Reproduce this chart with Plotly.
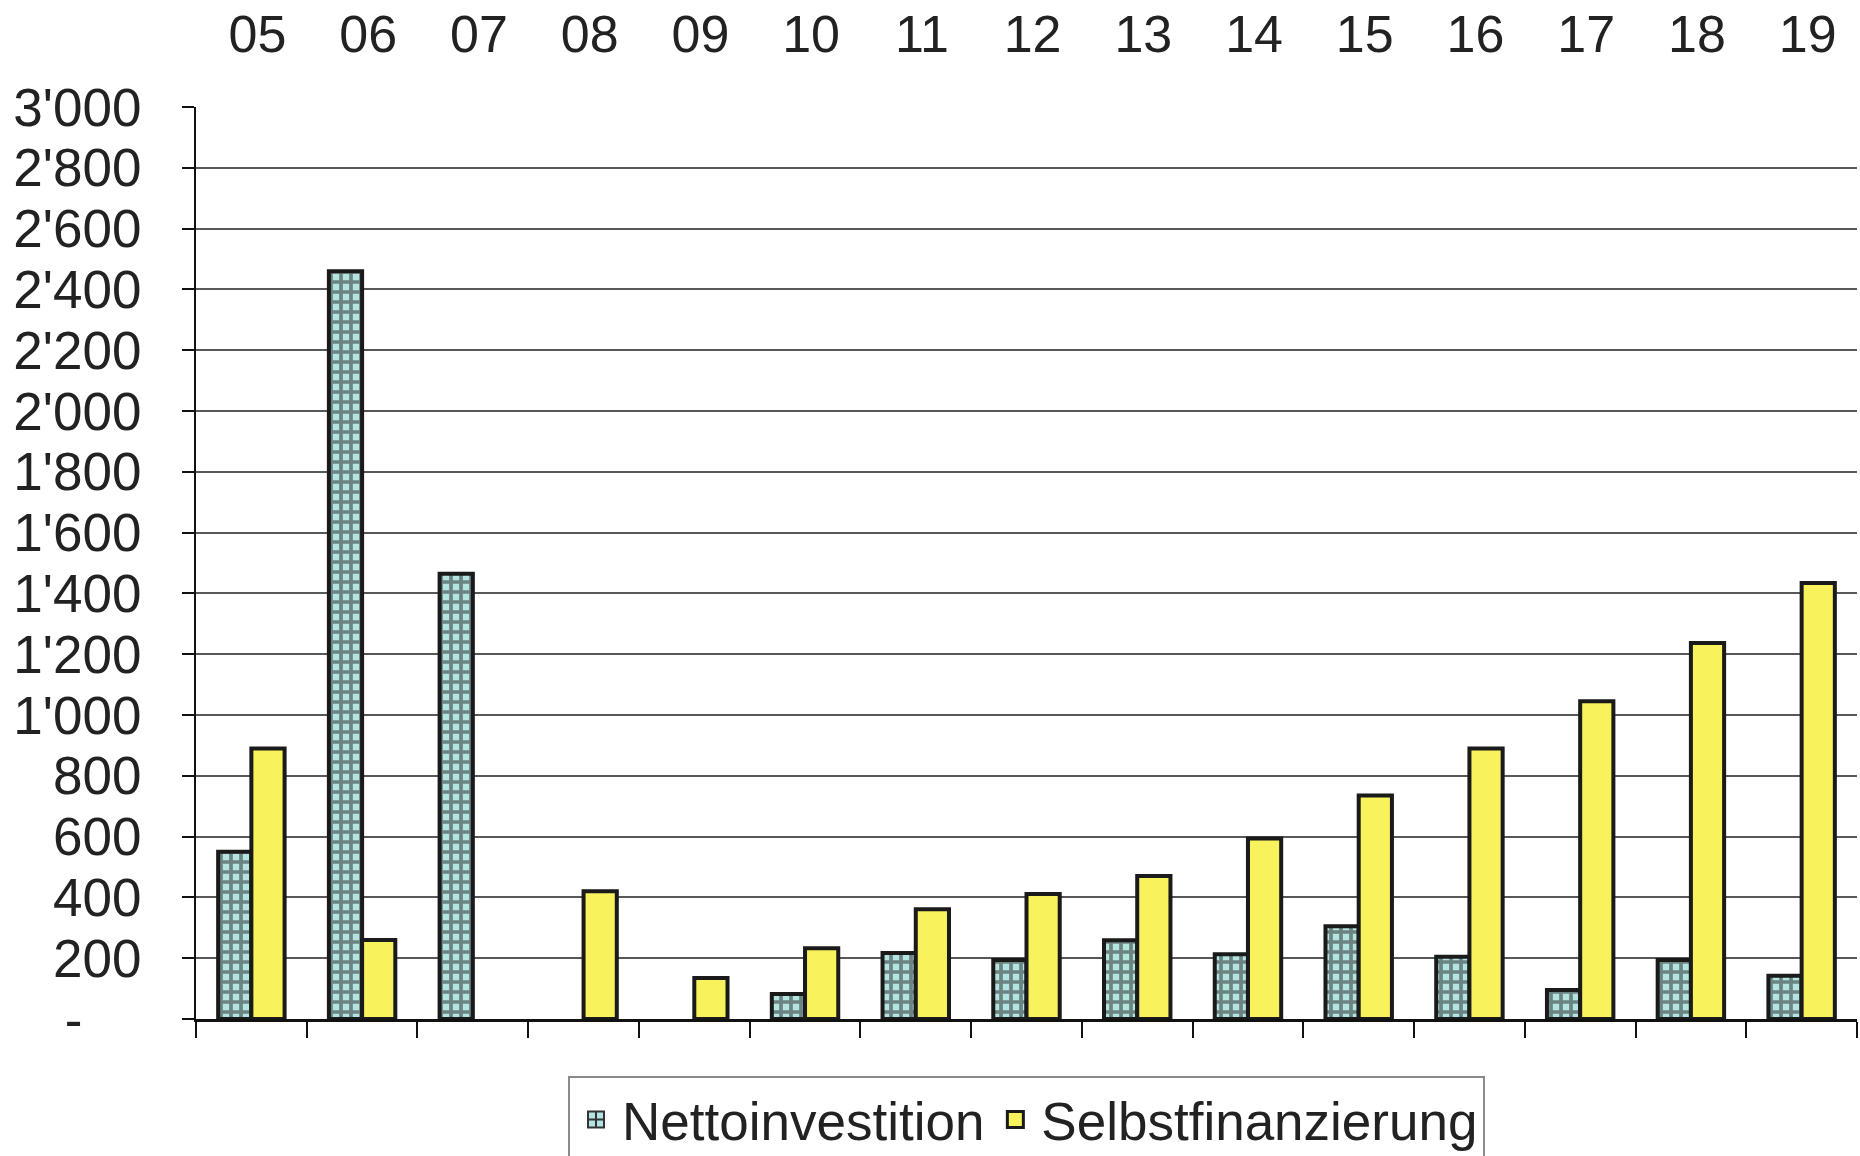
import plotly.graph_objects as go

years = ["05", "06", "07", "08", "09", "10", "11", "12", "13", "14", "15", "16", "17", "18", "19"]
netto = [550, 2460, 1465, None, None, 82, 217, 194, 259, 213, 305, 205, 95, 194, 142]
selbst = [890, 260, None, 420, 135, 233, 361, 411, 470, 594, 735, 890, 1045, 1237, 1434]
ytick_vals = [0, 200, 400, 600, 800, 1000, 1200, 1400, 1600, 1800, 2000, 2200, 2400, 2600, 2800, 3000]
ytick_text = ["-\u2007\u2007", "200", "400", "600", "800", "1'000", "1'200", "1'400", "1'600",
              "1'800", "2'000", "2'200", "2'400", "2'600", "2'800", "3'000"]
series_names = ["Nettoinvestition", "Selbstfinanzierung"]

FONT = "Liberation Sans, Arial, sans-serif"
TXT = "#222222"
CYAN = "#b4e4e0"
YELLOW = "#f8f25c"
EDGE = "#1a1a1a"

fig = go.Figure()
fig.add_trace(go.Bar(
    x=years, y=netto, name=series_names[0], showlegend=False,
    marker=dict(color=CYAN,
                line=dict(color=EDGE, width=4),
                pattern=dict(shape="+", fgcolor="#222222", bgcolor=CYAN,
                             size=10, solidity=0.6)),
))
fig.add_trace(go.Bar(
    x=years, y=selbst, name=series_names[1], showlegend=False,
    marker=dict(color=YELLOW, line=dict(color=EDGE, width=4)),
))
# legend entries with square symbols
fig.add_trace(go.Scatter(
    x=[None], y=[None], mode="markers", name=series_names[0],
    marker=dict(symbol="square-cross", size=31, color=CYAN,
                line=dict(color="#333333", width=2)),
))
fig.add_trace(go.Scatter(
    x=[None], y=[None], mode="markers", name=series_names[1],
    marker=dict(symbol="square", size=31, color=YELLOW,
                line=dict(color=EDGE, width=3)),
))
# invisible trace to carry the top category labels
fig.add_trace(go.Scatter(
    x=years, y=[0] * len(years), xaxis="x2", mode="markers",
    marker=dict(opacity=0), showlegend=False, hoverinfo="skip",
))

fig.update_layout(
    width=1860, height=1156,
    margin=dict(l=196, r=3, t=107, b=137, autoexpand=False),
    paper_bgcolor="white", plot_bgcolor="white",
    font=dict(family=FONT, color=TXT, size=50),
    barmode="group", bargap=0.4, bargroupgap=0,
    showlegend=True,
    legend=dict(orientation="h", x=0.5, xanchor="center", y=-0.063, yanchor="top",
                font=dict(size=53, family=FONT, color=TXT),
                bordercolor="#8a8a8a", borderwidth=2, bgcolor="white",
                itemsizing="trace", itemwidth=42, tracegroupgap=0),
    xaxis=dict(type="category", categoryorder="array", categoryarray=years,
               range=[-0.5, 14.5], automargin=False,
               showticklabels=False, ticks="outside", tickson="boundaries",
               ticklen=16, tickwidth=1.5, tickcolor="#111111",
               showline=True, linecolor="#111111", linewidth=2.5,
               showgrid=False, zeroline=False),
    xaxis2=dict(type="category", categoryorder="array", categoryarray=years,
                range=[-0.555, 14.445], overlaying="x", side="top", automargin=False,
                showticklabels=True, ticks="", showline=False, showgrid=False,
                zeroline=False, ticklabelstandoff=44,
                tickfont=dict(size=52, family=FONT, color=TXT)),
    yaxis=dict(range=[0, 3000], tickvals=ytick_vals, ticktext=ytick_text,
               automargin=False,
               showgrid=True, gridcolor="#585858", gridwidth=2,
               ticks="outside", ticklen=12, tickwidth=1.5, tickcolor="#111111",
               showline=True, linecolor="#111111", linewidth=2,
               zeroline=False, ticklabelstandoff=30,
               tickfont=dict(size=53, family=FONT, color=TXT)),
)

fig.write_html("out.html", config={"displayModeBar": False},
               post_script="document.body.style.margin='0px';")
